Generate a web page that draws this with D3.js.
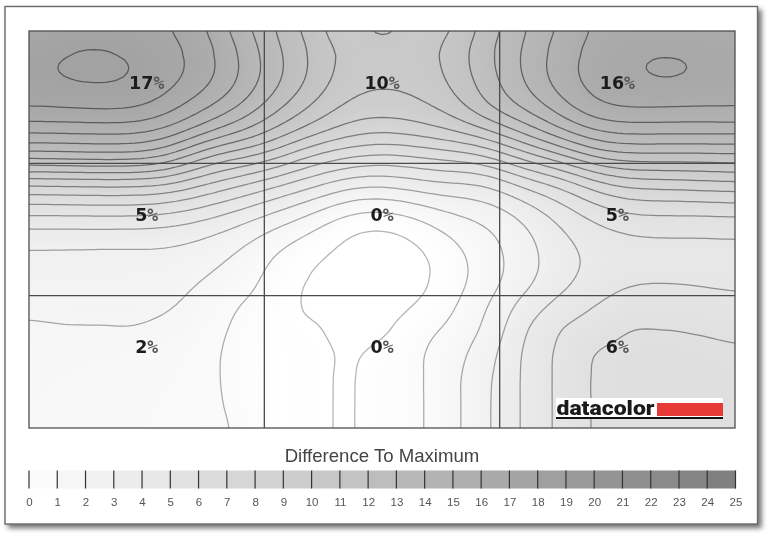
<!DOCTYPE html>
<html>
<head>
<meta charset="utf-8">
<script src="https://cdnjs.cloudflare.com/ajax/libs/d3/7.8.5/d3.min.js"></script>
<style>
html,body{margin:0;padding:0;background:#fff;overflow:hidden}
svg{display:block;filter:blur(0.3px)}
text{font-family:"Liberation Sans",Arial,sans-serif}
</style>
</head>
<body>
<svg id="chart" width="779" height="541"></svg>
<script>
// Difference-to-maximum readings, sampled down each column of the screen (top to bottom)
const col00=[17.3,17.72,17.7,17.1,15.3,12.6,8.65,5.9,3.9,2.8,2.55,2.22,1.9,1.75,1.65,1.6,1.6];
const col01=[17.6,18.07,18.08,17.2,15.35,12.7,8.75,5.95,3.9,2.8,2.6,2.25,1.95,1.7,1.6,1.55,1.55];
const col02=[17.7,18.15,18.12,17.3,15.4,12.8,8.8,6.0,3.9,2.75,2.6,2.3,1.95,1.65,1.55,1.5,1.5];
const col03=[17.4,18.0,18.02,17.3,15.4,12.8,8.8,6.0,3.9,2.75,2.6,2.3,1.95,1.6,1.5,1.45,1.45];
const col04=[17.05,17.4,17.3,16.5,14.85,12.2,8.55,5.8,3.8,2.8,2.45,2.1,1.75,1.5,1.4,1.35,1.3];
const col05=[16.05,16.5,16.35,15.2,13.3,10.0,7.35,5.1,3.35,2.45,1.95,1.6,1.35,1.2,1.13,1.15,1.2];
const col06=[14.5,14.9,14.9,14.1,12.2,9.4,6.6,4.35,2.75,1.9,1.5,1.0,0.8,0.72,0.78,0.8,0.85];
const col07=[13.0,13.25,13.2,12.3,10.8,8.5,5.6,3.45,1.85,0.9,0.6,0.45,0.3,0.2,0.2,0.2,0.2];
const col08=[11.6,11.9,11.8,11.0,9.55,6.9,4.7,2.65,1.15,0.22,-0.2,-0.2,0.12,0.28,0.3,0.3,0.3];
const col09=[10.4,10.5,10.3,9.75,8.55,6.3,3.75,1.6,0.05,-0.3,-0.35,-0.35,-0.3,-0.1,-0.1,-0.1,-0.1];
const col10=[11.12,10.4,10.2,9.5,8.15,5.8,3.5,1.4,-0.2,-0.5,-0.5,-0.45,-0.15,0.25,0.55,0.6,0.6];
const col11=[10.5,10.4,10.2,9.8,8.55,6.2,4.0,1.9,0.35,-0.35,-0.45,0.02,0.6,0.85,0.88,0.88,0.88];
const col12=[11.1,11.35,11.15,10.4,9.05,6.55,4.3,2.55,1.4,0.7,0.6,0.85,1.25,1.6,1.75,1.75,1.75];
const col13=[12.55,12.85,12.6,12.15,10.0,7.0,4.2,2.7,1.85,1.55,1.5,1.95,2.3,2.65,2.85,2.9,2.9];
const col14=[13.9,14.1,13.95,13.2,11.4,8.7,5.85,3.75,2.8,2.55,2.65,3.3,3.8,4.05,4.1,4.1,4.1];
const col15=[15.15,15.5,15.5,14.55,12.8,9.75,6.45,4.75,3.9,3.55,3.6,4.25,4.9,5.15,5.18,5.18,5.18];
const col16=[16.1,16.4,16.4,16.0,14.2,11.45,8.1,5.9,4.75,4.3,4.4,4.95,5.5,5.97,6.05,6.05,6.05];
const col17=[16.4,16.9,16.85,16.2,14.45,11.85,8.8,6.65,5.2,4.55,4.9,5.45,5.95,6.2,6.25,6.25,6.25];
const col18=[16.5,17.12,17.1,16.15,14.4,11.8,8.9,6.6,5.3,4.55,4.9,5.5,5.98,6.3,6.35,6.35,6.35];
const col19=[16.4,16.93,16.9,16.1,14.4,11.8,9.0,6.7,5.2,4.65,4.85,5.4,5.9,6.2,6.3,6.3,6.3];
const col20=[16.2,16.6,16.55,16.15,14.4,11.9,9.2,6.8,5.3,4.65,4.75,5.25,5.8,6.1,6.2,6.2,6.2];
const columns=[col00,col01,col02,col03,col04,col05,col06,col07,col08,col09,col10,col11,col12,col13,col14,col15,col16,col17,col18,col19,col20];

const cellLabelsRow1=["17","10","16"];
const cellLabelsRow2=["5","0","5"];
const cellLabelsRow3=["2","0","6"];
const contourLevels=d3.range(0,19);
const legendTicks=d3.range(0,26);
const legendTitle="Difference To Maximum";
const brandName="datacolor";

const W=779,H=541;
const plot={l:29,r:735,t:31,b:428};
const svg=d3.select("#chart");
const defs=svg.append("defs");

const x=d3.scaleLinear().domain([0,3]).range([plot.l,plot.r]);
const y=d3.scaleLinear().domain([0,3]).range([plot.t,plot.b]);
const shade=d3.scaleLinear().domain([0,25]).range(["#ffffff","#7e7e7e"]).clamp(true);

// frame with shadow
const f=defs.append("filter").attr("id","sh").attr("x","-5%").attr("y","-5%").attr("width","112%").attr("height","112%");
f.append("feDropShadow").attr("dx",3.5).attr("dy",3.5).attr("stdDeviation",2.8).attr("flood-color","#444").attr("flood-opacity",0.75);
svg.append("rect").attr("x",5).attr("y",6.5).attr("width",752.5).attr("height",517.5)
  .attr("fill","#fff").attr("stroke","#6a6a6a").attr("stroke-width",1.4).attr("filter","url(#sh)");

defs.append("clipPath").attr("id","plotClip").append("rect")
  .attr("x",plot.l).attr("y",plot.t).attr("width",plot.r-plot.l).attr("height",plot.b-plot.t);

// smooth resampling of the read values for drawing
const nc=columns.length,nr=col00.length,k=6;
const cr=(a,b,c,d,t)=>0.5*((2*b)+(c-a)*t+(2*a-5*b+4*c-d)*t*t+(3*b-a-3*c+d)*t*t*t);
const at=(i,j)=>columns[Math.max(0,Math.min(nc-1,i))][Math.max(0,Math.min(nr-1,j))];
const w=(nc-1)*k+1,h=(nr-1)*k+1;
const raw=new Float64Array(w*h);
for(let yy=0;yy<h;yy++){
  const fy=yy/k,j=Math.min(nr-2,Math.floor(fy)),ty=fy-j;
  for(let xx=0;xx<w;xx++){
    const fx=xx/k,i=Math.min(nc-2,Math.floor(fx)),tx=fx-i;
    const v=[-1,0,1,2].map(d=>cr(at(i-1,j+d),at(i,j+d),at(i+1,j+d),at(i+2,j+d),tx));
    raw[yy*w+xx]=cr(v[0],v[1],v[2],v[3],ty);
  }
}
// soften hand-reading wobble, keeping the narrow features at the top edge and bottom centre
const soft=Float64Array.from(raw);
d3.blur2({data:soft,width:w,height:h},3,2);
const field=new Float64Array(w*h);
for(let yy=0;yy<h;yy++){
  const m=Math.max(0,Math.min(1,(12*k-yy)/(2*k),yy/k));
  for(let xx=0;xx<w;xx++) field[yy*w+xx]=m*soft[yy*w+xx]+(1-m)*raw[yy*w+xx];
}
const px=d3.scaleLinear().domain([0.5,w-0.5]).range([plot.l,plot.r]);
const py=d3.scaleLinear().domain([0.5,h-0.5]).range([plot.t,plot.b]);
const geo=d3.geoPath(d3.geoTransform({point(a,b){this.stream.point(px(a),py(b));}}));
const contours=d3.contours().size([w,h]);

const gPlot=svg.append("g").attr("clip-path","url(#plotClip)");
gPlot.append("rect").attr("x",plot.l).attr("y",plot.t).attr("width",plot.r-plot.l).attr("height",plot.b-plot.t).attr("fill","#fff");
gPlot.append("g").selectAll("path").data(contours.thresholds(d3.range(0,20,0.2))(field)).join("path")
  .attr("d",geo).attr("fill",d=>shade(d.value));
const lineAlpha=d3.scaleLinear().domain([0,12]).range([0.34,0.58]).clamp(true);
gPlot.append("g").selectAll("path").data(contours.thresholds(contourLevels)(field)).join("path")
  .attr("d",geo).attr("fill","none").attr("stroke","#222").attr("stroke-opacity",d=>lineAlpha(d.value)).attr("stroke-width",1.25);

// grid
const gGrid=svg.append("g").attr("stroke","#4a4a4a").attr("stroke-width",1.3);
gGrid.selectAll(".v").data([1,2]).join("line").attr("x1",d=>x(d)).attr("x2",d=>x(d)).attr("y1",plot.t).attr("y2",plot.b);
gGrid.selectAll(".h").data([1,2]).join("line").attr("y1",d=>y(d)).attr("y2",d=>y(d)).attr("x1",plot.l).attr("x2",plot.r);
svg.append("rect").attr("x",plot.l).attr("y",plot.t).attr("width",plot.r-plot.l).attr("height",plot.b-plot.t)
  .attr("fill","none").attr("stroke","#4f4f4f").attr("stroke-width",1.3);

// logo
const logo=svg.append("g");
logo.append("rect").attr("x",556).attr("y",398).attr("width",167).attr("height",21).attr("fill","#fff");
logo.append("rect").attr("x",657).attr("y",403).attr("width",66).attr("height",13).attr("fill","#e63a36");
logo.append("rect").attr("x",556).attr("y",417).attr("width",167).attr("height",2).attr("fill","#111");
logo.append("text").text(brandName).attr("x",556.5).attr("y",414.5)
  .attr("textLength",98).attr("lengthAdjust","spacingAndGlyphs")
  .style("font-family","Roboto").style("font-weight",900).style("font-size","21px").attr("fill","#1a1a1a");

// cell labels
[cellLabelsRow1,cellLabelsRow2,cellLabelsRow3].forEach((row,r)=>{
  row.forEach((lab,c)=>{
    const t=svg.append("text").attr("x",x(c+0.5)).attr("y",y(r+0.5)-8.5).attr("text-anchor","middle").attr("fill","#1c1c1c");
    t.append("tspan").text(lab).style("font-size","17.5px").style("font-weight",700).style("font-family","DejaVu Sans");
    t.append("tspan").text("%").style("font-size","18px").style("font-weight",700).style("font-family","DejaVu Sans Mono").attr("fill","#555");
  });
});

// legend
const lx=d3.scaleLinear().domain([0,25]).range([plot.l,plot.r+0.5]);
svg.append("g").selectAll("rect").data(legendTicks.slice(0,-1)).join("rect")
  .attr("x",d=>lx(d)).attr("y",470.5).attr("width",d=>lx(d+1)-lx(d)+0.4).attr("height",18)
  .attr("fill",d=>shade(d+0.7));
const ax=d3.axisBottom(lx).tickValues(legendTicks).tickSize(18).tickPadding(9).tickFormat(d3.format("d"));
const gAx=svg.append("g").attr("transform","translate(0,470.5)").call(ax);
gAx.select(".domain").remove();
gAx.selectAll("line").attr("stroke","#333").attr("stroke-width",1.2).attr("transform","translate(-0.5,0)");
gAx.selectAll("text").style("font-family","Liberation Sans").style("font-size","11.5px").attr("fill","#555");

svg.append("text").text(legendTitle).attr("x",382).attr("y",462).attr("text-anchor","middle")
  .style("font-size","18.6px").attr("fill","#444");
</script>
</body>
</html>
